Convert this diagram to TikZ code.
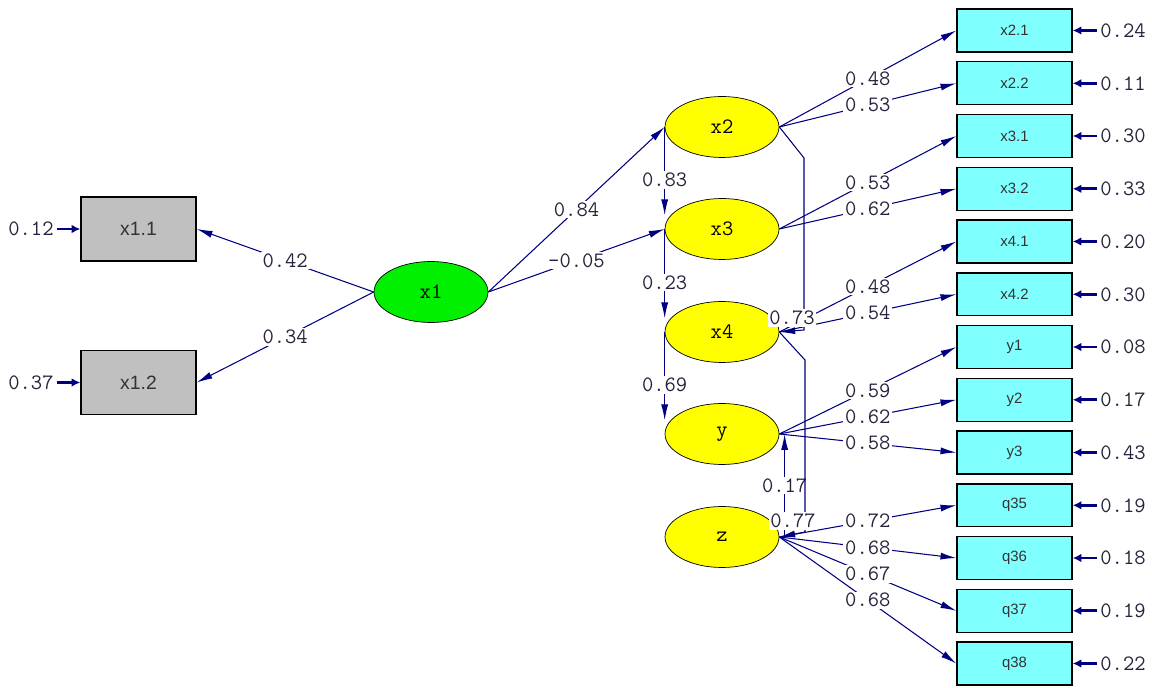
\documentclass[tikz,border=0pt]{standalone}
\usepackage{fontspec}
\setmainfont{Liberation Sans}
\usepackage{tikz}
\usetikzlibrary{shapes.geometric}
\usetikzlibrary{arrows.meta}
\definecolor{pathblue}{RGB}{0,0,128}
\definecolor{latyellow}{RGB}{255,255,0}
\definecolor{latgreen}{RGB}{0,240,0}
\definecolor{obscyan}{RGB}{128,255,255}
\definecolor{obsgray}{RGB}{192,192,192}
\definecolor{numcolor}{RGB}{40,35,60}

\begin{document}
\begin{tikzpicture}[x=0.02cm, y=-0.02cm, >={Latex[length=9pt,width=4pt]},
		latent/.style={draw, ellipse, thin, inner sep=0pt, minimum width=2.28cm, minimum height=1.22cm, font=\ttfamily\fontsize{12.5}{12.5}\selectfont},
		obsbox/.style={draw, rectangle, line width=0.8pt, fill=obscyan, minimum width=2.3cm, minimum height=0.86cm, text=black!80, font=\fontsize{8.5}{10}\selectfont},
		leftbox/.style={draw, rectangle, line width=0.8pt, fill=obsgray, minimum width=2.3cm, minimum height=1.28cm, text=black!80, font=\fontsize{11}{12}\selectfont},
		lbl/.style={fill=white, inner sep=1pt, text=numcolor, font=\ttfamily\fontsize{12.5}{12.5}\selectfont},
		errlbl/.style={inner sep=1.5pt, text=numcolor, font=\ttfamily\fontsize{12.5}{12.5}\selectfont},
		load/.style={draw=pathblue, line width=0.6pt, ->},
		errarr/.style={draw=pathblue, line width=1.5pt, -{Latex[length=5pt,width=5pt]}}]
		\useasboundingbox (0,0) rectangle (1152,688);

		% latent variables
		\node[latent, fill=latgreen] (x1) at (431, 292) {x1};
		\node[latent, fill=latyellow] (x2) at (722, 127) {x2};
		\node[latent, fill=latyellow] (x3) at (722, 229) {x3};
		\node[latent, fill=latyellow] (x4) at (722, 332) {x4};
		\node[latent, fill=latyellow] (y) at (722, 434) {y};
		\node[latent, fill=latyellow] (z) at (722, 537) {z};

		% observed variables
		\node[leftbox] (x11) at (138.5, 229) {x1.1};
		\node[leftbox] (x12) at (138.5, 382.5) {x1.2};
		\node[obsbox] (x21) at (1014.5, 30.5) {x2.1};
		\node[obsbox] (x22) at (1014.5, 83.3) {x2.2};
		\node[obsbox] (x31) at (1014.5, 136) {x3.1};
		\node[obsbox] (x32) at (1014.5, 188.8) {x3.2};
		\node[obsbox] (x41) at (1014.5, 241.5) {x4.1};
		\node[obsbox] (x42) at (1014.5, 294.3) {x4.2};
		\node[obsbox] (y1) at (1014.5, 347) {y1};
		\node[obsbox] (y2) at (1014.5, 399.8) {y2};
		\node[obsbox] (y3) at (1014.5, 452.5) {y3};
		\node[obsbox] (q35) at (1014.5, 505.3) {q35};
		\node[obsbox] (q36) at (1014.5, 558) {q36};
		\node[obsbox] (q37) at (1014.5, 610.8) {q37};
		\node[obsbox] (q38) at (1014.5, 663.5) {q38};

		% error variances
		\node[errlbl] (e11) at (31, 229) {0.12};
		\node[errlbl] (e12) at (31, 382.5) {0.37};
		\node[errlbl] (e21) at (1123, 30.5) {0.24};
		\node[errlbl] (e22) at (1123, 83.3) {0.11};
		\node[errlbl] (e31) at (1123, 136) {0.30};
		\node[errlbl] (e32) at (1123, 188.8) {0.33};
		\node[errlbl] (e41) at (1123, 241.5) {0.20};
		\node[errlbl] (e42) at (1123, 294.3) {0.30};
		\node[errlbl] (ey1) at (1123, 347) {0.08};
		\node[errlbl] (ey2) at (1123, 399.8) {0.17};
		\node[errlbl] (ey3) at (1123, 452.5) {0.43};
		\node[errlbl] (eq35) at (1123, 505.3) {0.19};
		\node[errlbl] (eq36) at (1123, 558) {0.18};
		\node[errlbl] (eq37) at (1123, 610.8) {0.19};
		\node[errlbl] (eq38) at (1123, 663.5) {0.22};

		\path[errarr] (e11) -- (x11.west);
		\path[errarr] (e12) -- (x12.west);
		\path[errarr] (e21) -- (x21.east);
		\path[errarr] (e22) -- (x22.east);
		\path[errarr] (e31) -- (x31.east);
		\path[errarr] (e32) -- (x32.east);
		\path[errarr] (e41) -- (x41.east);
		\path[errarr] (e42) -- (x42.east);
		\path[errarr] (ey1) -- (y1.east);
		\path[errarr] (ey2) -- (y2.east);
		\path[errarr] (ey3) -- (y3.east);
		\path[errarr] (eq35) -- (q35.east);
		\path[errarr] (eq36) -- (q36.east);
		\path[errarr] (eq37) -- (q37.east);
		\path[errarr] (eq38) -- (q38.east);

		% structural paths
		\path[load] (x1.west) -- (x11.east) node[lbl, midway] {0.42};
		\path[load] (x1.west) -- (x12.east) node[lbl, midway] {0.34};
		\path[load] (x1.east) -- (x2.west) node[lbl, midway] {0.84};
		\path[load] (x1.east) -- (x3.west) node[lbl, midway] {-0.05};
		\path[load] (x2.west) -- (x2.west |- x3.165) node[lbl, pos=0.6] {0.83};
		\path[load] (x3.west) -- (x3.west |- x4.165) node[lbl, pos=0.6] {0.23};
		\path[load] (x4.west) -- (x4.west |- y.165) node[lbl, pos=0.6] {0.69};
		\path[load] ([xshift=3]z.east) -- ([xshift=3]y.east) node[lbl, midway] {0.17};
		\path[load] (x2.east) -- (804, 158) -- (804, 330) -- (x4.east);
		\path[load] (x4.east) -- (805, 360) -- (805, 532) -- (z.east);

		% loadings
		\path[load] (x2.east) -- (x21.west) node[lbl, midway] {0.48};
		\path[load] (x2.east) -- (x22.west) node[lbl, midway] {0.53};
		\path[load] (x3.east) -- (x31.west) node[lbl, midway] {0.53};
		\path[load] (x3.east) -- (x32.west) node[lbl, midway] {0.62};
		\path[load] (x4.east) -- (x41.west) node[lbl, midway] {0.48};
		\path[load] (x4.east) -- (x42.west) node[lbl, midway] {0.54};
		\path[load] (y.east) -- (y1.west) node[lbl, midway] {0.59};
		\path[load] (y.east) -- (y2.west) node[lbl, midway] {0.62};
		\path[load] (y.east) -- (y3.west) node[lbl, midway] {0.58};
		\path[load] (z.east) -- (q35.west) node[lbl, midway] {0.72};
		\path[load] (z.east) -- (q36.west) node[lbl, midway] {0.68};
		\path[load] (z.east) -- (q37.west) node[lbl, midway] {0.67};
		\path[load] (z.east) -- (q38.west) node[lbl, midway] {0.68};

		\node[lbl] at (792, 318) {0.73};
		\node[lbl] at (793, 521) {0.77};
\end{tikzpicture}
\end{document}
